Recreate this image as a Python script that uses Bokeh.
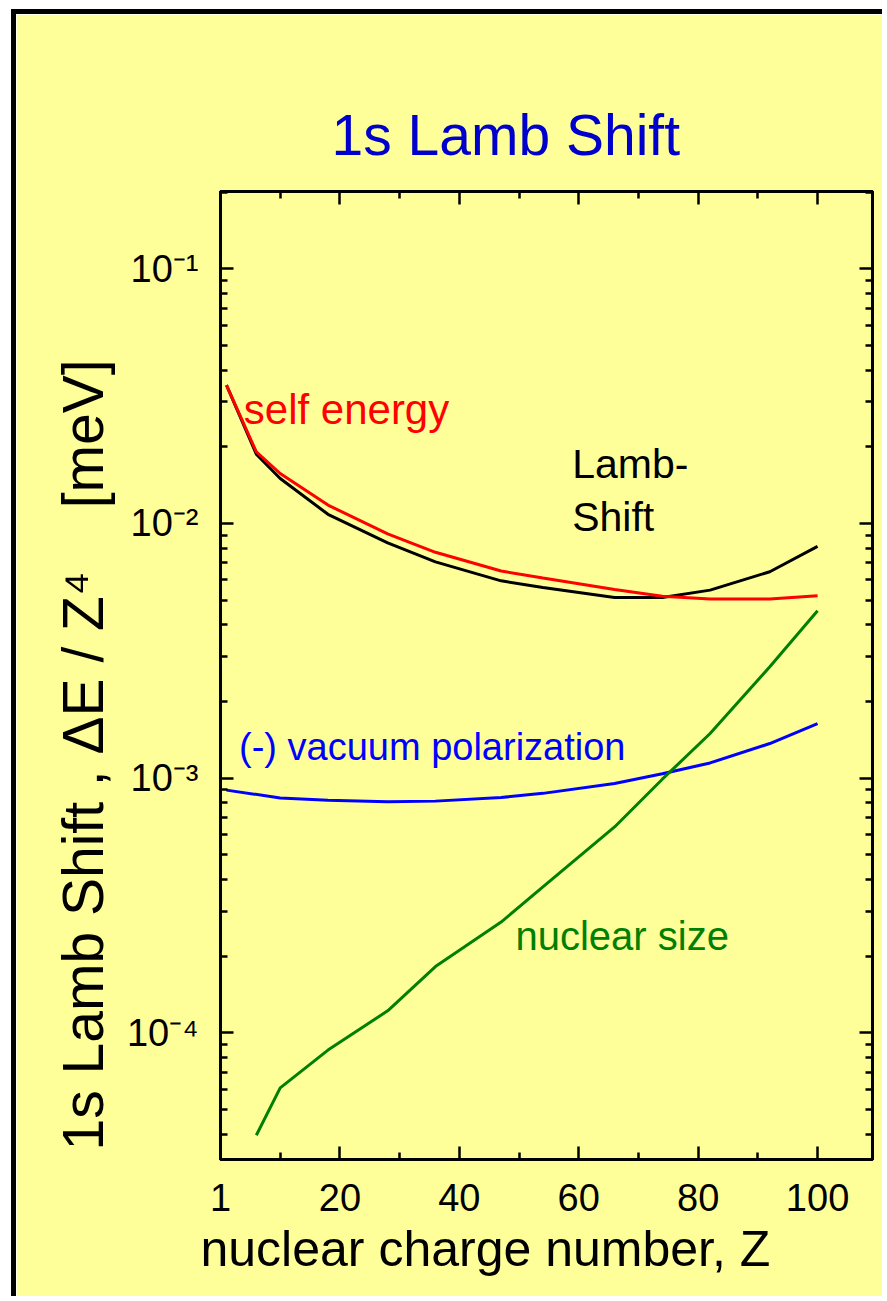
from bokeh.plotting import figure
from bokeh.models import Range1d, LinearAxis, LogAxis, FixedTicker, Label, Title
from bokeh.embed import file_html
from bokeh.resources import INLINE

# ---------------- data ----------------
z_main = [1, 6, 10, 18, 28, 36, 47, 54, 66, 74, 82, 92, 100]
lamb_shift = [0.0349, 0.0187, 0.0150, 0.01086, 0.00838, 0.00706, 0.00595,
              0.0056, 0.00512, 0.00512, 0.00547, 0.00646, 0.00813]
self_energy = [0.0349, 0.0191, 0.0157, 0.0118, 0.0091, 0.0077, 0.0065,
               0.0061, 0.0055, 0.00518, 0.00505, 0.00505, 0.0052]
z_vp = [1, 10, 18, 28, 36, 47, 54, 66, 74, 82, 92, 100]
vacuum_pol = [0.000897, 0.000836, 0.000819, 0.000807, 0.000812, 0.000839,
              0.000871, 0.000953, 0.00104, 0.001147, 0.001367, 0.001637]
z_ns = [6, 10, 18, 28, 36, 47, 54, 66, 74, 82, 92, 100]
nuclear_size = [3.96e-5, 6.08e-5, 8.55e-5, 1.22e-4, 1.82e-4, 2.72e-4,
                3.74e-4, 6.43e-4, 9.9e-4, 1.496e-3, 2.735e-3, 4.54e-3]

x_ticks = [0, 20, 40, 60, 80, 100]
x_tick_labels = ["1", "20", "40", "60", "80", "100"]
x_minor_ticks = [10, 30, 50, 70, 90]
y_ticks = [1e-4, 1e-3, 1e-2, 1e-1]
y_tick_labels = ["10\u207b\u2074", "10\u207b\u00b3", "10\u207b\u00b2", "10\u207b\u00b9"]

title_text = "1s Lamb Shift"
x_label_text = "nuclear charge number, Z"
y_label_text = "1s Lamb Shift , \u0394E / Z\u2074 \u00a0 \u00a0[meV]"

# ---------------- styling ----------------
BG = "#FFFF99"
FONT = "Liberation Sans"
X_MIN, X_MAX = 0, 109.2
Y_MIN, Y_MAX = 3.18e-5, 0.201

y_minor_ticks = [k * 10.0 ** e for e in range(-5, 0) for k in range(2, 10)
                 if Y_MIN <= k * 10.0 ** e <= Y_MAX]

p = figure(width=871, height=1287,
           x_range=Range1d(X_MIN, X_MAX), y_range=Range1d(Y_MIN, Y_MAX),
           y_axis_type="log", output_backend="svg", toolbar_location=None,
           background_fill_color=BG, border_fill_color=BG,
           min_border_left=204, min_border_right=15,
           min_border_top=177, min_border_bottom=142)
p.styles = {"margin-left": "11px", "margin-top": "9px",
            "border-left": "5px solid black", "border-top": "5px solid black"}
p.grid.visible = False
p.outline_line_color = "black"
p.outline_line_width = 3


def style_axis(ax, ticks, show_labels):
    ax.axis_line_width = 3
    ax.axis_line_color = "black"
    ax.major_tick_line_width = 2.5
    ax.minor_tick_line_width = 2.5
    ax.major_tick_in = 13
    ax.major_tick_out = 0
    ax.minor_tick_in = 7
    ax.minor_tick_out = 0
    ax.major_label_text_font = FONT
    ax.major_label_text_color = "black"
    ax.major_label_text_font_size = "38px"
    if not show_labels:
        ax.major_label_overrides = {t: "" for t in ticks}
        ax.major_label_text_font_size = "10px"
        ax.major_label_standoff = 0


bx = p.xaxis[0]
bx.ticker = FixedTicker(ticks=x_ticks, minor_ticks=x_minor_ticks)
style_axis(bx, x_ticks, True)
bx.major_label_overrides = {t: l for t, l in zip(x_ticks, x_tick_labels)}
bx.major_label_standoff = 24

ly = p.yaxis[0]
ly.ticker = FixedTicker(ticks=y_ticks, minor_ticks=y_minor_ticks)
style_axis(ly, y_ticks, True)
ly.major_label_overrides = {t: l for t, l in zip(y_ticks, y_tick_labels)}
ly.major_label_standoff = 22

top = LinearAxis(ticker=FixedTicker(ticks=x_ticks, minor_ticks=x_minor_ticks))
style_axis(top, x_ticks, False)
p.add_layout(top, "above")
right = LogAxis(ticker=FixedTicker(ticks=y_ticks, minor_ticks=y_minor_ticks))
style_axis(right, y_ticks, False)
p.add_layout(right, "right")

# ---------------- lines ----------------
p.line(z_main, lamb_shift, line_color="black", line_width=3)
p.line(z_main, self_energy, line_color="#FF0000", line_width=3)
p.line(z_vp, vacuum_pol, line_color="#0000FF", line_width=3)
p.line(z_ns, nuclear_size, line_color="#008000", line_width=3)

# ---------------- in-plot annotations ----------------
ann = dict(text_font=FONT, text_align="left", text_baseline="alphabetic")
p.add_layout(Label(x=3.9, y=0.0280, text="self energy", text_color="#FF0000",
                   text_font_size="42px", **ann))
p.add_layout(Label(x=58.9, y=0.0171, text="Lamb-", text_color="black",
                   text_font_size="41px", **ann))
p.add_layout(Label(x=58.9, y=0.01058, text="Shift", text_color="black",
                   text_font_size="41px", **ann))
p.add_layout(Label(x=3.1, y=0.00132, text="(-) vacuum polarization",
                   text_color="#0000FF", text_font_size="38px", **ann))
p.add_layout(Label(x=49.4, y=2.39e-4, text="nuclear size", text_color="#008000",
                   text_font_size="40px", **ann))

# ---------------- title & axis labels ----------------
p.title.text = title_text
p.title.text_font = FONT
p.title.text_font_size = "57px"
p.title.text_font_style = "normal"
p.title.text_color = "#0000CC"
p.title.align = "left"
p.title.offset = 111
p.title.standoff = 50

p.add_layout(Title(text=x_label_text, align="left", offset=-20, standoff=11,
                   text_font=FONT, text_font_size="50px", text_font_style="normal",
                   text_color="black"), "below")
p.add_layout(Title(text=y_label_text, align="left", offset=9, standoff=17,
                   text_font=FONT, text_font_size="57px", text_font_style="normal",
                   text_color="black"), "left")

open("out.html", "w").write(file_html(p, INLINE))
